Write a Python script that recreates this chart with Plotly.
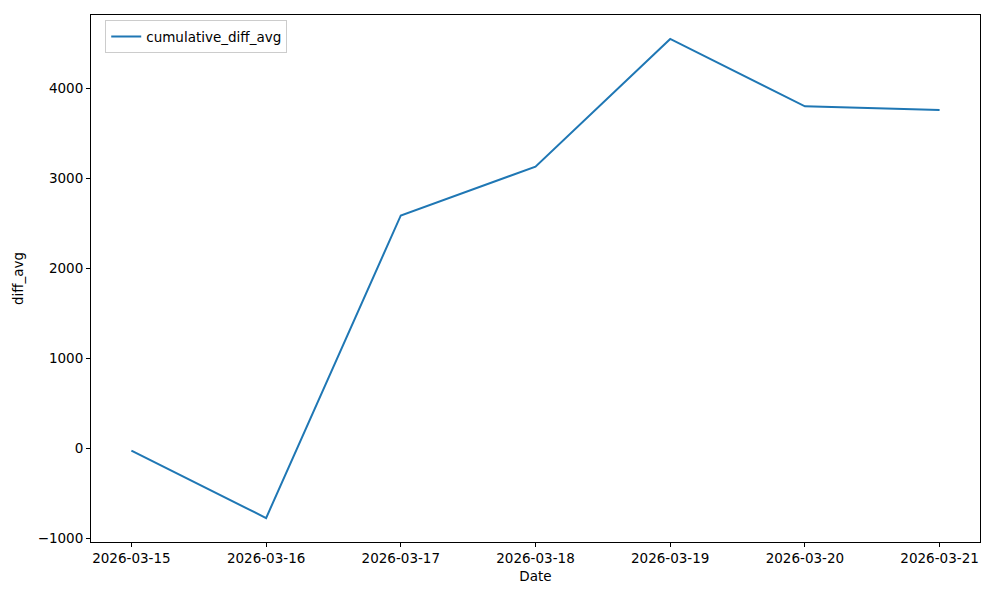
import plotly.graph_objects as go

dates = ["2026-03-15", "2026-03-16", "2026-03-17", "2026-03-18", "2026-03-19", "2026-03-20", "2026-03-21"]
cumulative_diff_avg = [-22, -770, 2589, 3130, 4548, 3800, 3759]
y_ticks = [-1000, 0, 1000, 2000, 3000, 4000]

fig = go.Figure()
fig.add_trace(go.Scatter(
    x=dates, y=cumulative_diff_avg, mode="lines", name="cumulative_diff_avg",
    line=dict(color="#1f77b4", width=2),
))

axis_common = dict(
    showline=True, linecolor="black", linewidth=1, mirror=True,
    ticks="outside", ticklen=4, tickcolor="black", showgrid=False, zeroline=False,
    tickfont=dict(size=13.5, color="black"),
)

fig.update_layout(
    width=984, height=584,
    margin=dict(l=83, r=12, t=7, b=50),
    plot_bgcolor="white", paper_bgcolor="white",
    font=dict(family="DejaVu Sans", size=13.5, color="black"),
    showlegend=True,
    legend=dict(x=0.016, y=0.99, xanchor="left", yanchor="top",
                bgcolor="rgba(255,255,255,0.8)", bordercolor="#cccccc", borderwidth=1,
                font=dict(size=13.5)),
    xaxis=dict(
        **axis_common,
        type="date",
        tickvals=dates, ticktext=dates,
        range=["2026-03-14 16:48", "2026-03-21 07:12"],
        title=dict(text="Date", font=dict(size=13.5), standoff=6),
    ),
    yaxis=dict(
        **axis_common,
        tickvals=y_ticks,
        range=[-1036, 4814],
        title=dict(text="diff_avg", font=dict(size=13.5), standoff=10),
    ),
)

fig.write_html("out.html")
